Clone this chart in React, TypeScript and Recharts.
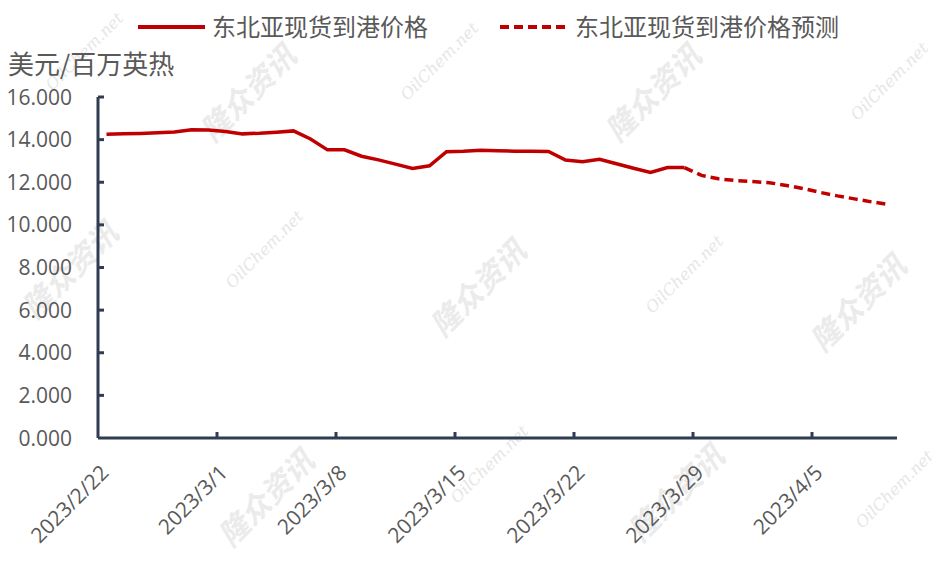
import React from 'react';
import { LineChart, Line, XAxis, YAxis } from 'recharts';

// Day index 0 = 2023/2/22 (one category per calendar day, 47 days to 2023/4/9)
const dayCount = 47;
const tickDays = [0, 7, 14, 21, 28, 35, 42];
const tickLabels = ['2023/2/22', '2023/3/1', '2023/3/8', '2023/3/15', '2023/3/22', '2023/3/29', '2023/4/5'];
const yTicks = [0, 2, 4, 6, 8, 10, 12, 14, 16];

// 东北亚现货到港价格 (day 0 .. day 34)
const actual = [
  14.25, 14.27, 14.29, 14.32, 14.36, 14.46, 14.45, 14.38, 14.27, 14.3,
  14.35, 14.41, 14.03, 13.52, 13.52, 13.22, 13.05, 12.85, 12.65, 12.77,
  13.43, 13.45, 13.5, 13.48, 13.46, 13.45, 13.44, 13.04, 12.96, 13.08,
  12.87, 12.66, 12.46, 12.69, 12.69,
];
// 东北亚现货到港价格预测 (day 34 .. day 46)
const forecastStart = 34;
const forecast = [12.69, 12.32, 12.16, 12.08, 12.03, 11.98, 11.85, 11.7, 11.52, 11.36, 11.22, 11.08, 10.96];

const seriesNames = ['东北亚现货到港价格', '东北亚现货到港价格预测'];
const yUnit = '美元/百万英热';

const data = Array.from({ length: dayCount }, (_, i) => ({
  x: i + 0.5,
  actual: i < actual.length ? actual[i] : null,
  forecast: i >= forecastStart && i - forecastStart < forecast.length ? forecast[i - forecastStart] : null,
}));

const RED = '#C00000';
const AXIS = '#2F3D52';
const TXT = '#595959';
const NUMFONT = '"Open Sans", "Liberation Sans", Arial, sans-serif';
const CJKFONT = '"Noto Sans CJK SC", "Noto Sans", sans-serif';

const XTick = (props: any) => {
  const { x, y, payload } = props;
  const idx = tickDays.indexOf(payload.value);
  const label = idx >= 0 ? tickLabels[idx] : '';
  const ax = x + 12;
  const ay = y + 36;
  return (
    <g>
      {payload.value !== 0 ? (
        <line x1={x} x2={x} y1={y} y2={y - 6} stroke={AXIS} strokeWidth={3} />
      ) : null}
      <text
        x={ax}
        y={ay}
        textAnchor="end"
        transform={`rotate(-45 ${ax} ${ay})`}
        fill={TXT}
        fontSize={21}
        fontFamily={NUMFONT}
      >
        {label}
      </text>
    </g>
  );
};

const YTick = (props: any) => {
  const { x, y, payload } = props;
  return (
    <g>
      {payload.value !== 0 ? (
        <line x1={x} x2={x + 6} y1={y} y2={y} stroke={AXIS} strokeWidth={3} />
      ) : null}
      <text
        x={x - 26}
        y={y}
        dy="0.36em"
        textAnchor="end"
        fill={TXT}
        fontSize={21}
        fontFamily={NUMFONT}
      >
        {Number(payload.value).toFixed(3)}
      </text>
    </g>
  );
};

const marks1 = [
  [250, 95], [655, 95], [72, 272], [480, 290], [860, 305], [268, 500], [678, 495],
];
const marks2 = [
  [85, 52], [440, 62], [890, 82], [265, 250], [685, 275], [490, 465], [895, 490],
];

export default function App() {
  return (
    <div style={{ position: 'relative', width: 932, height: 556 }}>
      <svg width={932} height={556} style={{ position: 'absolute', left: 0, top: 0 }}>
        {marks1.map(([cx, cy], i) => (
          <text
            key={'a' + i}
            x={cx - 8}
            y={cy - 8}
            textAnchor="middle"
            dominantBaseline="middle"
            transform={`rotate(-45 ${cx - 8} ${cy - 8})`}
            fill="#ebebeb"
            fontSize={30}
            fontWeight={700}
            fontStyle="italic"
            fontFamily={CJKFONT}
          >
            隆众资讯
          </text>
        ))}
        {marks2.map(([cx, cy], i) => (
          <text
            key={'b' + i}
            x={cx - 8}
            y={cy - 8}
            textAnchor="middle"
            dominantBaseline="middle"
            transform={`rotate(-45 ${cx - 8} ${cy - 8})`}
            fill="#e6e6e6"
            fontSize={16}
            fontStyle="italic"
            fontFamily='"DejaVu Serif", "Liberation Serif", serif'
          >
            OilChem.net
          </text>
        ))}
      </svg>
      <div style={{ position: 'absolute', left: 0, top: 0 }}>
        <LineChart
          width={932}
          height={556}
          data={data}
          margin={{ top: 89, right: 43, bottom: 26, left: 0 }}
        >
          <XAxis
            type="number"
            dataKey="x"
            domain={[0, dayCount]}
            ticks={tickDays}
            interval={0}
            allowDataOverflow
            height={100}
            tickSize={0}
            tickMargin={0}
            tickLine={false}
            axisLine={{ stroke: AXIS, strokeWidth: 3 }}
            tick={<XTick />}
          />
          <YAxis
            type="number"
            domain={[0, 16]}
            ticks={yTicks}
            interval={0}
            width={90}
            tickSize={0}
            tickMargin={0}
            tickLine={false}
            axisLine={{ stroke: AXIS, strokeWidth: 3 }}
            tick={<YTick />}
          />
          <Line
            type="linear"
            dataKey="actual"
            stroke={RED}
            strokeWidth={3.5}
            dot={false}
            activeDot={false}
            isAnimationActive={false}
          />
          <Line
            type="linear"
            dataKey="forecast"
            stroke={RED}
            strokeWidth={3.5}
            strokeDasharray="9 5"
            dot={false}
            activeDot={false}
            isAnimationActive={false}
          />
        </LineChart>
      </div>
      <svg width={932} height={556} style={{ position: 'absolute', left: 0, top: 0, pointerEvents: 'none' }}>
        <line x1={130} x2={197} y1={19} y2={19} stroke={RED} strokeWidth={4} />
        <text x={204} y={19} dy="0.36em" fill={TXT} fontSize={24} fontFamily={CJKFONT}>
          {seriesNames[0]}
        </text>
        <line x1={492} x2={560} y1={19} y2={19} stroke={RED} strokeWidth={4} strokeDasharray="9 5" />
        <text x={567} y={19} dy="0.36em" fill={TXT} fontSize={24} fontFamily={CJKFONT}>
          {seriesNames[1]}
        </text>
        <text x={0} y={57} dy="0.36em" fill={TXT} fontSize={26} fontFamily={CJKFONT}>
          {yUnit}
        </text>
      </svg>
    </div>
  );
}
